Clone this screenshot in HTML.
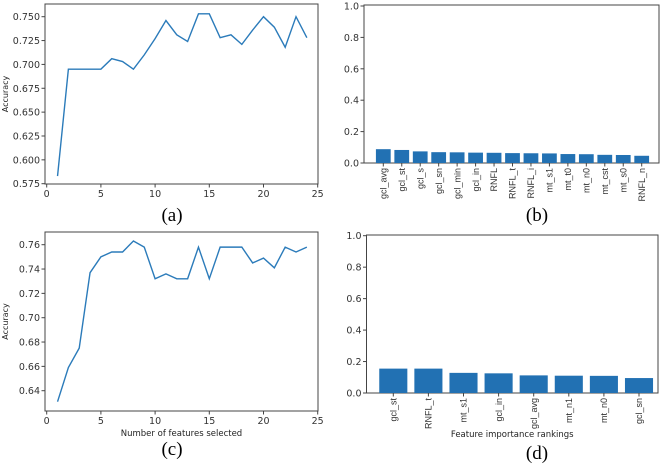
<!DOCTYPE html>
<html><head><meta charset="utf-8"><style>
html,body{margin:0;padding:0;background:#fff;}
svg{display:block;font-family:"DejaVu Sans","Liberation Sans",sans-serif;}
.tk{font-size:9.5px;fill:#333;}
.rk{font-family:"Liberation Sans",sans-serif;font-size:9px;fill:#333;}
.cap{font-family:"Liberation Serif",serif;font-size:19px;fill:#000;}
</style></head><body>
<svg id="fig" width="669" height="465" viewBox="0 0 669 465"></svg>
<script>
const aX = [1,2,3,4,5,6,7,8,9,10,11,12,13,14,15,16,17,18,19,20,21,22,23,24];
const aAcc = [0.583,0.695,0.695,0.695,0.695,0.706,0.703,0.695,0.710,0.727,0.746,0.731,0.724,0.753,0.753,0.728,0.731,0.721,0.736,0.750,0.739,0.718,0.750,0.728];
const aYTicks = [0.575,0.600,0.625,0.650,0.675,0.700,0.725,0.750];
const cAcc = [0.631,0.659,0.675,0.737,0.750,0.754,0.754,0.763,0.758,0.732,0.736,0.732,0.732,0.758,0.732,0.758,0.758,0.758,0.745,0.749,0.741,0.758,0.754,0.758];
const cYTicks = [0.64,0.66,0.68,0.70,0.72,0.74,0.76];
const xTicks = [0,5,10,15,20,25];
const bNames = ["gcl_avg","gcl_st","gcl_s","gcl_sn","gcl_min","gcl_in","RNFL","RNFL_t","RNFL_i","mt_s1","mt_t0","mt_n0","mt_cst","mt_s0","RNFL_n"];
const bVals = [0.088,0.083,0.074,0.069,0.068,0.066,0.065,0.063,0.062,0.061,0.057,0.056,0.052,0.051,0.046];
const dNames = ["gcl_st","RNFL_t","mt_s1","gcl_in","gcl_avg","mt_n1","mt_n0","gcl_sn"];
const dVals = [0.155,0.155,0.128,0.125,0.112,0.110,0.109,0.095];
const barYTicks = [0.0,0.2,0.4,0.6,0.8,1.0];

const svg = document.getElementById('fig');
const NS = 'http://www.w3.org/2000/svg';
function mk(tag, attrs, parent){const e=document.createElementNS(NS,tag);for(const k in attrs)e.setAttribute(k,attrs[k]);(parent||svg).appendChild(e);return e;}
function txt(s, attrs, parent){const e=mk('text',attrs,parent);e.textContent=s;return e;}

function lineChart(name, box, xs, ys, yTicks, yd, fmt, xlabel){
  const g=mk('g',{});
  
  
  const sx=v=>box.x0+(v-0)*(box.x25-box.x0)/25;
  const sy=v=>box.yA+(v-yd[0])*(box.yB-box.yA)/(yd[1]-yd[0]);
  const frame=mk('rect',{x:box.l,y:box.t,width:box.r-box.l,height:box.b-box.t,fill:'none',stroke:'#444','stroke-width':1},g);
  
  
  xTicks.forEach(v=>{mk('line',{x1:sx(v),x2:sx(v),y1:box.b,y2:box.b+3.5,stroke:'#444'},g);
    const t=txt(String(v),{x:sx(v),y:box.b+13,'text-anchor':'middle',class:'tk'},g);
    
    });
  yTicks.forEach(v=>{mk('line',{x1:box.l-3.5,x2:box.l,y1:sy(v),y2:sy(v),stroke:'#444'},g);
    const t=txt(v.toFixed(fmt),{x:box.l-5,y:sy(v)+3.5,'text-anchor':'end',class:'tk'},g);
    
    });
  const yl=txt('Accuracy',{x:0,y:0,transform:`translate(${box.l-37},${(box.t+box.b)/2}) rotate(-90)`,'text-anchor':'middle','font-size':'8px',fill:'#222'},g);
  
  
  if(xlabel){const xl=txt(xlabel,{x:(box.l+box.r)/2,y:box.b+25,'text-anchor':'middle','font-size':'8.5px',fill:'#222'},g);
    
    }
  const p=mk('polyline',{points:xs.map((x,i)=>sx(x)+','+sy(ys[i])).join(' '),fill:'none',stroke:'#2b7bba','stroke-width':1.4},g);
  
  
}

function barChart(name, box, names, vals, xlabel){
  const g=mk('g',{});
  
  
  const sy=v=>box.y0+v*(box.y1-box.y0);
  const n=names.length, step=(box.cN-box.c0)/(n-1), bw=step*0.8;
  const frame=mk('rect',{x:box.l,y:box.t,width:box.r-box.l,height:box.b-box.t,fill:'none',stroke:'#444','stroke-width':1},g);
  
  
  barYTicks.forEach(v=>{mk('line',{x1:box.l-3.5,x2:box.l,y1:sy(v),y2:sy(v),stroke:'#444'},g);
    const t=txt(v.toFixed(1),{x:box.l-5,y:sy(v)+3.5,'text-anchor':'end',class:'tk'},g);
    
    });
  names.forEach((nm,i)=>{
    const cx=box.c0+i*step;
    const r=mk('rect',{x:cx-bw/2,y:sy(vals[i]),width:bw,height:sy(0)-sy(vals[i]),fill:'#2271b3'},g);
    
    
    mk('line',{x1:cx,x2:cx,y1:box.b,y2:box.b+3.5,stroke:'#444'},g);
    const t=txt(nm,{x:0,y:0,transform:`translate(${cx+3.2},${box.b+5}) rotate(-90)`,'text-anchor':'end',class:'rk'},g);
    
    
  });
  if(xlabel){const xl=txt(xlabel,{x:(box.l+box.r)/2,y:box.b+44,'text-anchor':'middle','font-size':'8.5px',fill:'#222'},g);
    
    }
}

lineChart('chart-a',{l:45,r:318,t:4,b:184,x0:46.7,x25:317.7,yA:16.7,yB:183.7},aX,aAcc,aYTicks,[0.750,0.575],3,null);
lineChart('chart-c',{l:45,r:318,t:232,b:411,x0:46.7,x25:317.7,yA:244.7,yB:390.7},aX,cAcc,cYTicks,[0.76,0.64],2,'Number of features selected');
barChart('chart-b',{l:364,r:659,t:5,b:163,y0:163,y1:6,c0:383.3,cN:641.7},bNames,bVals,null);
barChart('chart-d',{l:366.5,r:658,t:235,b:393,y0:393,y1:235.7,c0:393.3,cN:639},dNames,dVals,'Feature importance rankings');

[['(a)',172,221],['(b)',537,221],['(c)',172,455],['(d)',537,459]].forEach(c=>{
  const t=txt(c[0],{x:c[1],y:c[2],'text-anchor':'middle',class:'cap'});
  
  
});
</script>
</body></html>
